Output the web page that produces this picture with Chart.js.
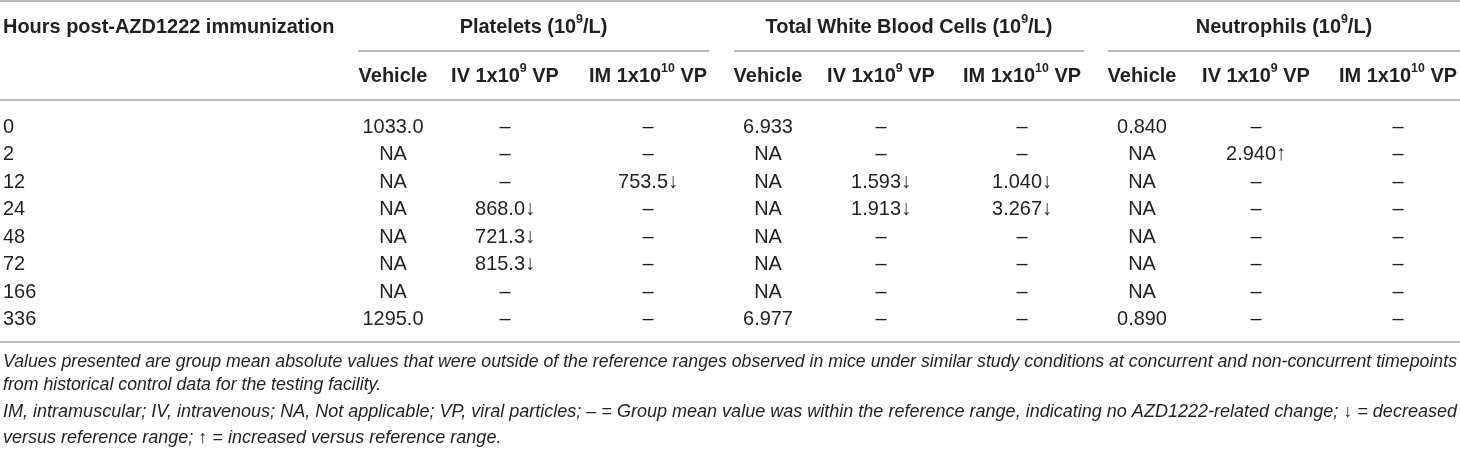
<!DOCTYPE html>
<html>
<head>
<meta charset="utf-8">
<script src="https://cdn.jsdelivr.net/npm/chart.js@4.4.1/dist/chart.umd.min.js"></script>
<style>
body { margin: 0; background: #fff; }
#wrap { width: 1460px; height: 451px; }
</style>
</head>
<body>
<div id="wrap"><canvas id="mycanvas"></canvas></div>
<script>
// rows: hours post-AZD1222 immunization
var hours = ['0', '2', '12', '24', '48', '72', '166', '336'];

// Platelets (10^9/L)  -- null = within reference range
var plateletsVehicle = [1033.0, 'NA', 'NA', 'NA', 'NA', 'NA', 'NA', 1295.0];
var plateletsIV = [null, null, null, 868.0, 721.3, 815.3, null, null];
var plateletsIM = [null, null, 753.5, null, null, null, null, null];

// Total white blood cells (10^9/L)
var wbcVehicle = [6.933, 'NA', 'NA', 'NA', 'NA', 'NA', 'NA', 6.977];
var wbcIV = [null, null, 1.593, 1.913, null, null, null, null];
var wbcIM = [null, null, 1.040, 3.267, null, null, null, null];

// Neutrophils (10^9/L)
var neutVehicle = [0.840, 'NA', 'NA', 'NA', 'NA', 'NA', 'NA', 0.890];
var neutIV = [null, 2.940, null, null, null, null, null, null];
var neutIM = [null, null, null, null, null, null, null, null];

// text (^...^ = superscript)
var firstHead = 'Hours post-AZD1222 immunization';
var groupHeads = ['Platelets (10^9^/L)', 'Total White Blood Cells (10^9^/L)', 'Neutrophils (10^9^/L)'];
var subHeads = ['Vehicle', 'IV 1x10^9^ VP', 'IM 1x10^10^ VP'];
var notes = [
	['Values presented are group mean absolute values that were outside of the reference ranges observed in mice under similar study conditions at concurrent and non-concurrent timepoints',
	 'from historical control data for the testing facility.'],
	['IM, intramuscular; IV, intravenous; NA, Not applicable; VP, viral particles; \u2013 = Group mean value was within the reference range, indicating no AZD1222-related change; \u2193 = decreased',
	 'versus reference range; \u2191 = increased versus reference range.']
];

// layout
var colX = [3, 393, 505, 648, 768, 881, 1022, 1142, 1256, 1398];
var groupSpan = [[358, 709], [734, 1084], [1108, 1460]];
var ink = '#231f20';
var rule = '#a3a3a3';
var fontName = '"Liberation Sans", Arial, sans-serif';
var squeeze = 0.95; // condensed look

var columns = [
	{ values: plateletsVehicle, dec: 1, arrow: '' },
	{ values: plateletsIV, dec: 1, arrow: '\u2193' },
	{ values: plateletsIM, dec: 1, arrow: '\u2193' },
	{ values: wbcVehicle, dec: 3, arrow: '' },
	{ values: wbcIV, dec: 3, arrow: '\u2193' },
	{ values: wbcIM, dec: 3, arrow: '\u2193' },
	{ values: neutVehicle, dec: 3, arrow: '' },
	{ values: neutIV, dec: 3, arrow: '\u2191' },
	{ values: neutIM, dec: 3, arrow: '\u2193' }
];

function cellText(v, col) {
	if (v === null) return '\u2013';
	if (typeof v === 'string') return v;
	return v.toFixed(col.dec) + col.arrow;
}

var datasets = [{
	data: hours.map(function(h) { return { x: colX[0], y: h }; }),
	cells: hours.slice(),
	align: 'left'
}];
columns.forEach(function(col, k) {
	datasets.push({
		data: hours.map(function(h) { return { x: colX[k + 1], y: h }; }),
		cells: col.values.map(function(v) { return cellText(v, col); }),
		align: 'center'
	});
});

function drawRich(ctx, str, x, y, align, size, weight) {
	var parts = str.split('^');
	var main = weight + ' ' + size + 'px ' + fontName;
	var sup = weight + ' ' + Math.round(size * 0.62) + 'px ' + fontName;
	var w = 0;
	parts.forEach(function(p, i) {
		ctx.font = i % 2 ? sup : main;
		w += ctx.measureText(p).width;
	});
	var cx = align === 'center' ? -w / 2 : (align === 'right' ? -w : 0);
	ctx.save();
	ctx.translate(x, y);
	ctx.scale(squeeze, 1);
	ctx.textAlign = 'left';
	ctx.textBaseline = 'middle';
	parts.forEach(function(p, i) {
		ctx.font = i % 2 ? sup : main;
		ctx.fillText(p, cx, i % 2 ? -size * 0.34 : 0);
		cx += ctx.measureText(p).width;
	});
	ctx.restore();
}

function hline(ctx, x1, x2, y, lw) {
	ctx.beginPath();
	ctx.lineWidth = lw;
	ctx.strokeStyle = rule;
	ctx.moveTo(x1, y);
	ctx.lineTo(x2, y);
	ctx.stroke();
}

var tablePlugin = {
	id: 'tablePlugin',
	afterDatasetsDraw: function(chart) {
		var ctx = chart.ctx;
		var area = chart.chartArea;
		var xs = chart.scales.x;
		ctx.save();
		ctx.fillStyle = ink;

		// body cells at the points placed by the scales
		chart.data.datasets.forEach(function(ds, i) {
			var meta = chart.getDatasetMeta(i);
			meta.data.forEach(function(pt, j) {
				drawRich(ctx, ds.cells[j], pt.x, pt.y, ds.align, 21, 'normal');
			});
		});

		// header
		var top = area.top;
		hline(ctx, xs.left, xs.right, top - 112, 1.5);
		drawRich(ctx, firstHead, xs.getPixelForValue(colX[0]), top - 86, 'left', 21, 'bold');
		groupHeads.forEach(function(g, k) {
			var a = xs.getPixelForValue(groupSpan[k][0]);
			var b = xs.getPixelForValue(groupSpan[k][1]);
			drawRich(ctx, g, (a + b) / 2, top - 86, 'center', 21, 'bold');
			hline(ctx, a, b, top - 62, 1.5);
			subHeads.forEach(function(s, m) {
				drawRich(ctx, s, xs.getPixelForValue(colX[1 + k * 3 + m]), top - 37, 'center', 21, 'bold');
			});
		});
		hline(ctx, xs.left, xs.right, top - 13, 1.5);

		// bottom rule and footnotes
		var bot = area.bottom;
		hline(ctx, xs.left, xs.right, bot + 9, 1.5);
		var ys = [[bot + 29.5, bot + 52.5], [bot + 79.5, bot + 105.5]];
		notes.forEach(function(para, p) {
			ctx.font = 'italic 17.5px ' + fontName;
			var sx = (xs.right - 6) / ctx.measureText(para[0]).width;
			para.forEach(function(line, l) {
				ctx.save();
				ctx.translate(xs.left + 3, ys[p][l]);
				ctx.scale(sx, 1);
				ctx.textAlign = 'left';
				ctx.textBaseline = 'middle';
				ctx.fillText(line, 0, 0);
				ctx.restore();
			});
		});
		ctx.restore();
	}
};

var ctx = document.getElementById('mycanvas');

var table = new Chart(ctx, {
	type: 'scatter',
	data: { datasets: datasets },
	options: {
		responsive: true,
		maintainAspectRatio: false,
		animation: false,
		events: [],
		layout: { padding: { top: 113, bottom: 118, left: 0, right: 0 } },
		elements: { point: { radius: 0, hoverRadius: 0 } },
		plugins: { legend: { display: false }, tooltip: { enabled: false } },
		scales: {
			x: { type: 'linear', min: 0, max: 1460, display: false },
			y: { type: 'category', labels: hours, offset: true, display: false }
		}
	},
	plugins: [tablePlugin]
});
</script>
</body>
</html>
